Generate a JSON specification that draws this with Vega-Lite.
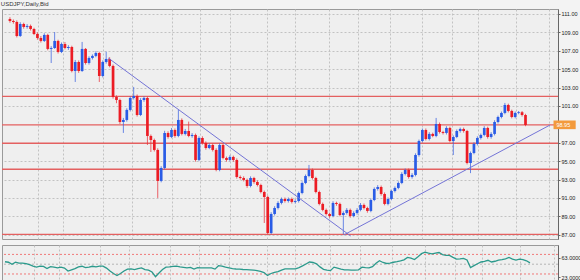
{
"$schema": "https://vega.github.io/schema/vega-lite/v6.json",
"padding": 0,
"background": "#f3f3f3",
"spacing": 4,
"title": {"text": "USDJPY,Daily,Bid", "anchor": "start", "fontSize": 6, "font": "Liberation Sans", "fontWeight": "normal", "color": "#333333", "offset": 2},
"config": {
  "view": {"fill": "#efefef", "stroke": "#9a9a9a", "strokeWidth": 1},
  "axis": {"labelFont": "Liberation Sans", "labelFontSize": 5.5, "labelColor": "#222222", "tickSize": 2, "labelPadding": 1, "title": null, "domainColor": "#666666", "tickColor": "#666666", "labelOverlap": false}
},
"datasets": {
"p": [
{"d":0,"o":110.45,"h":110.65,"l":110.05,"c":110.24,"r":55},
{"d":1,"o":110.24,"h":110.4,"l":109.95,"c":110.13,"r":54},
{"d":2,"o":110.13,"h":110.3,"l":108.45,"c":108.61,"r":50},
{"d":3,"o":108.61,"h":110.1,"l":108.5,"c":109.91,"r":54},
{"d":4,"o":109.91,"h":110.05,"l":109.4,"c":109.59,"r":52},
{"d":5,"o":109.59,"h":109.9,"l":109.4,"c":109.70,"r":52},
{"d":6,"o":109.70,"h":109.85,"l":109.2,"c":109.37,"r":51},
{"d":7,"o":109.37,"h":109.5,"l":108.7,"c":108.83,"r":49},
{"d":8,"o":108.83,"h":109.0,"l":108.2,"c":108.39,"r":46},
{"d":9,"o":108.39,"h":108.6,"l":107.9,"c":108.07,"r":44},
{"d":10,"o":108.07,"h":108.9,"l":107.95,"c":108.72,"r":46},
{"d":11,"o":108.72,"h":108.85,"l":107.05,"c":107.20,"r":45.5},
{"d":12,"o":107.20,"h":107.5,"l":105.67,"c":107.30,"r":41},
{"d":13,"o":107.30,"h":109.04,"l":107.2,"c":108.07,"r":45},
{"d":14,"o":108.07,"h":108.2,"l":106.7,"c":106.87,"r":44},
{"d":15,"o":106.87,"h":107.9,"l":106.75,"c":107.74,"r":42.5},
{"d":16,"o":107.74,"h":107.95,"l":107.15,"c":107.30,"r":44},
{"d":17,"o":107.30,"h":107.6,"l":107.1,"c":107.41,"r":42},
{"d":18,"o":107.41,"h":107.55,"l":104.65,"c":104.80,"r":36},
{"d":19,"o":104.80,"h":106.0,"l":103.61,"c":105.78,"r":38.5},
{"d":20,"o":105.78,"h":105.95,"l":104.6,"c":104.80,"r":41},
{"d":21,"o":104.80,"h":107.96,"l":104.7,"c":107.20,"r":44.5},
{"d":22,"o":107.20,"h":107.3,"l":105.5,"c":105.67,"r":45.8},
{"d":23,"o":105.67,"h":106.4,"l":105.5,"c":106.22,"r":43},
{"d":24,"o":106.22,"h":106.6,"l":106.05,"c":106.44,"r":44},
{"d":25,"o":106.44,"h":106.95,"l":106.3,"c":106.76,"r":45.8},
{"d":26,"o":106.76,"h":106.9,"l":103.61,"c":104.26,"r":44.4},
{"d":27,"o":104.26,"h":105.95,"l":104.1,"c":105.78,"r":46},
{"d":28,"o":105.78,"h":106.9,"l":105.6,"c":106.11,"r":46},
{"d":29,"o":106.11,"h":106.3,"l":105.2,"c":105.35,"r":42},
{"d":30,"o":105.35,"h":105.5,"l":101.8,"c":101.98,"r":36},
{"d":31,"o":101.98,"h":102.15,"l":101.3,"c":101.65,"r":31},
{"d":32,"o":101.65,"h":101.8,"l":99.05,"c":99.26,"r":27},
{"d":33,"o":99.26,"h":99.7,"l":98.07,"c":99.48,"r":31},
{"d":34,"o":99.48,"h":100.75,"l":99.3,"c":100.57,"r":36},
{"d":35,"o":100.57,"h":102.05,"l":100.4,"c":101.87,"r":40},
{"d":36,"o":101.87,"h":103.07,"l":101.7,"c":102.09,"r":40.4},
{"d":37,"o":102.09,"h":102.25,"l":99.85,"c":100.02,"r":39},
{"d":38,"o":100.02,"h":101.85,"l":99.9,"c":101.65,"r":41},
{"d":39,"o":101.65,"h":102.05,"l":101.45,"c":101.87,"r":42.4},
{"d":40,"o":101.87,"h":102.0,"l":96.76,"c":97.74,"r":39},
{"d":41,"o":97.74,"h":97.9,"l":96.0,"c":97.30,"r":38},
{"d":42,"o":97.30,"h":97.45,"l":96.05,"c":96.22,"r":34},
{"d":43,"o":96.22,"h":96.4,"l":91.0,"c":92.85,"r":24.4},
{"d":44,"o":92.85,"h":94.45,"l":92.7,"c":94.26,"r":32},
{"d":45,"o":94.26,"h":98.3,"l":94.1,"c":98.06,"r":39},
{"d":46,"o":98.06,"h":98.25,"l":97.45,"c":97.63,"r":44},
{"d":47,"o":97.63,"h":98.6,"l":97.5,"c":98.39,"r":44.5},
{"d":48,"o":98.39,"h":98.55,"l":97.55,"c":97.74,"r":45.5},
{"d":49,"o":97.74,"h":100.57,"l":97.6,"c":99.48,"r":46},
{"d":50,"o":99.48,"h":99.65,"l":97.8,"c":97.96,"r":44.5},
{"d":51,"o":97.96,"h":98.5,"l":97.8,"c":98.28,"r":43.5},
{"d":52,"o":98.28,"h":99.3,"l":97.6,"c":97.74,"r":42.4},
{"d":53,"o":97.74,"h":98.05,"l":97.55,"c":97.85,"r":43.5},
{"d":54,"o":97.85,"h":98.0,"l":94.95,"c":95.13,"r":40},
{"d":55,"o":95.13,"h":97.7,"l":95.0,"c":97.52,"r":43},
{"d":56,"o":97.52,"h":97.7,"l":96.8,"c":96.98,"r":42.4},
{"d":57,"o":96.98,"h":97.15,"l":96.25,"c":96.43,"r":42.4},
{"d":58,"o":96.43,"h":96.95,"l":96.3,"c":96.76,"r":42.4},
{"d":59,"o":96.76,"h":96.9,"l":96.05,"c":96.22,"r":42.4},
{"d":60,"o":96.22,"h":96.4,"l":93.9,"c":94.04,"r":40},
{"d":61,"o":94.04,"h":96.95,"l":93.9,"c":96.76,"r":47},
{"d":62,"o":96.76,"h":96.9,"l":95.2,"c":95.35,"r":46},
{"d":63,"o":95.35,"h":95.5,"l":94.95,"c":95.13,"r":44},
{"d":64,"o":95.13,"h":95.65,"l":95.0,"c":95.46,"r":42.5},
{"d":65,"o":95.46,"h":95.6,"l":94.95,"c":95.13,"r":41},
{"d":66,"o":95.13,"h":95.3,"l":93.1,"c":93.28,"r":40.2},
{"d":67,"o":93.28,"h":93.45,"l":93.0,"c":93.17,"r":39.8},
{"d":68,"o":93.17,"h":93.35,"l":92.8,"c":92.96,"r":39.2},
{"d":69,"o":92.96,"h":93.1,"l":92.1,"c":92.30,"r":38.8},
{"d":70,"o":92.30,"h":93.35,"l":92.15,"c":93.17,"r":38.5},
{"d":71,"o":93.17,"h":93.3,"l":92.55,"c":92.74,"r":38},
{"d":72,"o":92.74,"h":92.9,"l":92.25,"c":92.41,"r":37},
{"d":73,"o":92.41,"h":92.55,"l":91.5,"c":91.65,"r":35.5},
{"d":74,"o":91.65,"h":91.8,"l":88.28,"c":91.11,"r":33},
{"d":75,"o":91.11,"h":91.25,"l":87.05,"c":87.19,"r":27},
{"d":76,"o":87.19,"h":89.45,"l":87.05,"c":89.26,"r":31},
{"d":77,"o":89.26,"h":90.1,"l":89.1,"c":89.91,"r":33.5},
{"d":78,"o":89.91,"h":90.65,"l":89.75,"c":90.46,"r":35},
{"d":79,"o":90.46,"h":91.05,"l":90.3,"c":90.89,"r":38},
{"d":80,"o":90.89,"h":91.05,"l":90.5,"c":90.67,"r":40.4},
{"d":81,"o":90.67,"h":91.05,"l":90.5,"c":90.89,"r":40.4},
{"d":82,"o":90.89,"h":91.05,"l":90.4,"c":90.57,"r":40.4},
{"d":83,"o":90.57,"h":90.85,"l":90.4,"c":90.67,"r":40.4},
{"d":84,"o":90.67,"h":91.7,"l":90.5,"c":91.54,"r":43},
{"d":85,"o":91.54,"h":92.8,"l":91.4,"c":92.63,"r":46.5},
{"d":86,"o":92.63,"h":93.55,"l":92.5,"c":93.39,"r":50.5},
{"d":87,"o":93.39,"h":94.59,"l":93.25,"c":94.04,"r":54.4},
{"d":88,"o":94.04,"h":94.2,"l":93.0,"c":93.17,"r":53.5},
{"d":89,"o":93.17,"h":93.3,"l":91.5,"c":91.65,"r":50.8},
{"d":90,"o":91.65,"h":91.8,"l":90.2,"c":90.35,"r":44.5},
{"d":91,"o":90.35,"h":90.5,"l":89.55,"c":89.70,"r":39.5},
{"d":92,"o":89.70,"h":89.85,"l":89.1,"c":89.26,"r":38},
{"d":93,"o":89.26,"h":89.4,"l":88.85,"c":89.04,"r":36.8},
{"d":94,"o":89.04,"h":90.65,"l":88.9,"c":90.46,"r":44},
{"d":95,"o":90.46,"h":90.6,"l":90.15,"c":90.35,"r":42},
{"d":96,"o":90.35,"h":90.5,"l":89.0,"c":89.15,"r":40},
{"d":97,"o":89.15,"h":89.55,"l":87.05,"c":89.37,"r":38.5},
{"d":98,"o":89.37,"h":89.9,"l":89.2,"c":89.70,"r":38.5},
{"d":99,"o":89.70,"h":89.85,"l":88.85,"c":89.04,"r":37.8},
{"d":100,"o":89.04,"h":89.55,"l":88.9,"c":89.37,"r":37.9},
{"d":101,"o":89.37,"h":89.9,"l":89.2,"c":89.70,"r":38.6},
{"d":102,"o":89.70,"h":90.45,"l":89.55,"c":90.24,"r":44},
{"d":103,"o":90.24,"h":90.4,"l":89.75,"c":89.91,"r":43},
{"d":104,"o":89.91,"h":90.05,"l":89.4,"c":89.59,"r":42.4},
{"d":105,"o":89.59,"h":90.95,"l":89.45,"c":90.78,"r":45},
{"d":106,"o":90.78,"h":92.15,"l":90.65,"c":91.98,"r":52},
{"d":107,"o":91.98,"h":92.4,"l":91.8,"c":92.19,"r":57},
{"d":108,"o":92.19,"h":92.35,"l":91.25,"c":91.43,"r":53.5},
{"d":109,"o":91.43,"h":91.6,"l":90.2,"c":90.35,"r":51.5},
{"d":110,"o":90.35,"h":91.05,"l":90.2,"c":90.89,"r":52.4},
{"d":111,"o":90.89,"h":91.9,"l":90.75,"c":91.76,"r":54},
{"d":112,"o":91.76,"h":92.25,"l":91.6,"c":92.09,"r":55.3},
{"d":113,"o":92.09,"h":92.8,"l":91.95,"c":92.63,"r":57},
{"d":114,"o":92.63,"h":93.8,"l":92.5,"c":93.61,"r":59},
{"d":115,"o":93.61,"h":94.2,"l":93.45,"c":94.04,"r":64},
{"d":116,"o":94.04,"h":94.2,"l":93.1,"c":93.28,"r":62.5},
{"d":117,"o":93.28,"h":93.7,"l":93.1,"c":93.50,"r":59.5},
{"d":118,"o":93.50,"h":95.85,"l":93.35,"c":95.67,"r":65},
{"d":119,"o":95.67,"h":97.35,"l":95.5,"c":97.19,"r":71.5},
{"d":120,"o":97.19,"h":98.55,"l":97.05,"c":98.39,"r":74.5},
{"d":121,"o":98.39,"h":98.55,"l":97.25,"c":97.41,"r":72.5},
{"d":122,"o":97.41,"h":98.15,"l":97.25,"c":97.96,"r":71},
{"d":123,"o":97.96,"h":98.1,"l":97.6,"c":97.74,"r":72.6},
{"d":124,"o":97.74,"h":99.7,"l":97.6,"c":99.04,"r":73.8},
{"d":125,"o":99.04,"h":99.2,"l":98.0,"c":98.17,"r":69.5},
{"d":126,"o":98.17,"h":98.3,"l":97.9,"c":98.07,"r":68},
{"d":127,"o":98.07,"h":98.8,"l":97.9,"c":98.61,"r":68},
{"d":128,"o":98.61,"h":98.75,"l":97.05,"c":97.19,"r":64},
{"d":129,"o":97.19,"h":97.8,"l":95.67,"c":97.63,"r":60.5},
{"d":130,"o":97.63,"h":98.45,"l":97.5,"c":98.28,"r":61},
{"d":131,"o":98.28,"h":98.65,"l":98.1,"c":98.50,"r":62},
{"d":132,"o":98.50,"h":98.65,"l":98.1,"c":98.28,"r":58.5},
{"d":133,"o":98.28,"h":98.4,"l":94.65,"c":94.80,"r":43},
{"d":134,"o":94.80,"h":96.05,"l":93.7,"c":95.89,"r":47},
{"d":135,"o":95.89,"h":97.05,"l":95.75,"c":96.87,"r":51},
{"d":136,"o":96.87,"h":97.7,"l":96.7,"c":97.52,"r":54.5},
{"d":137,"o":97.52,"h":98.0,"l":97.35,"c":97.85,"r":55.8},
{"d":138,"o":97.85,"h":98.8,"l":97.7,"c":98.61,"r":58},
{"d":139,"o":98.61,"h":98.75,"l":97.45,"c":97.63,"r":54.5},
{"d":140,"o":97.63,"h":98.15,"l":97.45,"c":97.96,"r":56},
{"d":141,"o":97.96,"h":99.45,"l":97.8,"c":99.26,"r":58.5},
{"d":142,"o":99.26,"h":99.95,"l":99.1,"c":99.80,"r":59.5},
{"d":143,"o":99.80,"h":100.4,"l":99.65,"c":100.24,"r":61},
{"d":144,"o":100.24,"h":101.33,"l":100.1,"c":101.11,"r":63.8},
{"d":145,"o":101.11,"h":101.25,"l":100.3,"c":100.46,"r":60.4},
{"d":146,"o":100.46,"h":100.6,"l":99.65,"c":99.80,"r":58.5},
{"d":147,"o":99.80,"h":100.4,"l":99.65,"c":100.24,"r":60.2},
{"d":148,"o":100.24,"h":100.45,"l":100.1,"c":100.32,"r":59.5},
{"d":149,"o":100.32,"h":100.45,"l":99.85,"c":100.02,"r":57},
{"d":150,"o":100.02,"h":100.15,"l":98.8,"c":98.93,"r":52.79}
],
"h": [{"v":102.05},{"v":98.95},{"v":96.95},{"v":94.12},{"v":87.05}],
"t": [{"id":1,"d":28.57,"v":106.22},{"id":1,"d":99.14,"v":86.87},{"id":2,"d":97.14,"v":86.98},{"id":2,"d":157.14,"v":98.93}],
"lv": [{"v":70,"k":"r"},{"v":30,"k":"r"},{"v":50,"k":"g"}],
"lab": [{"a":158.15,"b":164.6,"y1":99.42,"y2":98.48,"m":98.95,"tx":159.0,"s":"98.95"}]
},
"vconcat": [
{
  "width": 556, "height": 230,
  "encoding": {
    "x": {"field": "d", "type": "quantitative", "scale": {"domain": [-0.857, 158.0], "nice": false, "zero": false},
          "axis": {"values": [8.3, 15.4, 27.1, 35.4, 47.1, 55.4, 64, 74.9, 82.9, 92.9, 101.4, 110.6, 120, 128.6, 136.3, 147.1, 156.9], "labels": false, "ticks": false, "domain": false, "grid": true, "gridDash": [2, 2], "gridColor": "#c2c2c2"}}
  },
  "layer": [
    {"data": {"name": "h"}, "mark": {"type": "rule", "color": "#e46060", "strokeWidth": 1.3},
     "encoding": {"x": null, "y": {"field": "v", "type": "quantitative",
        "scale": {"domain": [86.54, 111.54], "nice": false, "zero": false},
        "axis": {"orient": "right", "values": [87, 89, 91, 93, 95, 97, 101, 103, 105, 107, 109, 111], "format": ".2f", "labelOverlap": false, "grid": true, "gridDash": [2, 2], "gridColor": "#c2c2c2"}}}},
    {"data": {"name": "p"}, "mark": {"type": "rule", "strokeWidth": 1, "opacity": 0.75, "clip": true},
     "encoding": {"y": {"field": "l", "type": "quantitative", "axis": {"orient": "right", "values": [87, 89, 91, 93, 95, 97, 101, 103, 105, 107, 109, 111], "format": ".2f", "labelOverlap": false, "grid": true, "gridDash": [2, 2], "gridColor": "#c2c2c2"}}, "y2": {"field": "h"},
       "color": {"condition": {"test": "datum.c >= datum.o", "value": "#3c63e0"}, "value": "#e8303a"}}},
    {"data": {"name": "p"}, "mark": {"type": "bar", "size": 2.7, "clip": true},
     "encoding": {"y": {"field": "o", "type": "quantitative", "axis": {"orient": "right", "values": [87, 89, 91, 93, 95, 97, 101, 103, 105, 107, 109, 111], "format": ".2f", "labelOverlap": false, "grid": true, "gridDash": [2, 2], "gridColor": "#c2c2c2"}}, "y2": {"field": "c"},
       "color": {"condition": {"test": "datum.c >= datum.o", "value": "#2a5ce6"}, "value": "#ec1c24"}}},
    {"data": {"name": "t"}, "mark": {"type": "line", "color": "#7474d6", "strokeWidth": 1, "clip": true},
     "encoding": {"y": {"field": "v", "type": "quantitative", "axis": {"orient": "right", "values": [87, 89, 91, 93, 95, 97, 101, 103, 105, 107, 109, 111], "format": ".2f", "labelOverlap": false, "grid": true, "gridDash": [2, 2], "gridColor": "#c2c2c2"}}, "detail": {"field": "id"}}},
    {"data": {"name": "lab"}, "mark": {"type": "rect", "fill": "#f39a3c", "clip": false},
     "encoding": {"x": {"field": "a", "type": "quantitative"}, "x2": {"field": "b"}, "y": {"field": "y1", "type": "quantitative", "axis": {"orient": "right", "values": [87, 89, 91, 93, 95, 97, 101, 103, 105, 107, 109, 111], "format": ".2f", "labelOverlap": false, "grid": true, "gridDash": [2, 2], "gridColor": "#c2c2c2"}}, "y2": {"field": "y2"}}},
    {"data": {"name": "lab"}, "mark": {"type": "text", "color": "#ffffff", "font": "Liberation Sans", "fontSize": 5.5, "align": "left", "baseline": "middle", "clip": false},
     "encoding": {"x": {"field": "tx", "type": "quantitative"}, "y": {"field": "m", "type": "quantitative", "axis": {"orient": "right", "values": [87, 89, 91, 93, 95, 97, 101, 103, 105, 107, 109, 111], "format": ".2f", "labelOverlap": false, "grid": true, "gridDash": [2, 2], "gridColor": "#c2c2c2"}}, "text": {"field": "s"}}}
  ]
},
{
  "width": 556, "height": 36,
  "encoding": {
    "x": {"field": "d", "type": "quantitative", "scale": {"domain": [-0.857, 158.0], "nice": false, "zero": false},
          "axis": {"values": [8.3, 15.4, 27.1, 35.4, 47.1, 55.4, 64, 74.9, 82.9, 92.9, 101.4, 110.6, 120, 128.6, 136.3, 147.1, 156.9], "labels": false, "ticks": false, "domain": false, "grid": true, "gridDash": [2, 2], "gridColor": "#c2c2c2"}}
  },
  "layer": [
    {"data": {"name": "lv"}, "mark": {"type": "rule", "strokeWidth": 1, "strokeDash": [2, 2]},
     "encoding": {"x": null, "y": {"field": "v", "type": "quantitative", "scale": {"domain": [15.7, 89.2], "nice": false, "zero": false},
        "axis": {"orient": "right", "values": [23, 43, 63], "format": ".4f", "labelOverlap": false, "grid": false}},
       "color": {"field": "k", "type": "nominal", "scale": {"domain": ["r", "g"], "range": ["#f07878", "#b4b4b4"]}, "legend": null}}},
    {"data": {"name": "p"}, "mark": {"type": "line", "color": "#2b9a8c", "strokeWidth": 1.3, "clip": true},
     "encoding": {"y": {"field": "r", "type": "quantitative"}}},
    {"data": {"values": [{}]}, "mark": {"type": "rect", "fill": "#f8f8f8", "fillOpacity": 0.9, "stroke": "#9a9a9a", "strokeWidth": 0.8},
     "encoding": {"x": {"datum": -0.5, "type": "quantitative"}, "x2": {"datum": 28.6}, "y": {"datum": 67, "type": "quantitative"}, "y2": {"datum": 48}}},
    {"data": {"values": [{}]}, "mark": {"type": "text", "text": "Relative Strength Index (RSI) (C,14) 52.7893", "color": "#222222", "font": "Liberation Sans", "fontSize": 5, "align": "left", "baseline": "middle"},
     "encoding": {"x": {"datum": 0.1, "type": "quantitative"}, "y": {"datum": 57.5, "type": "quantitative"}}}
  ]
}
]
}
